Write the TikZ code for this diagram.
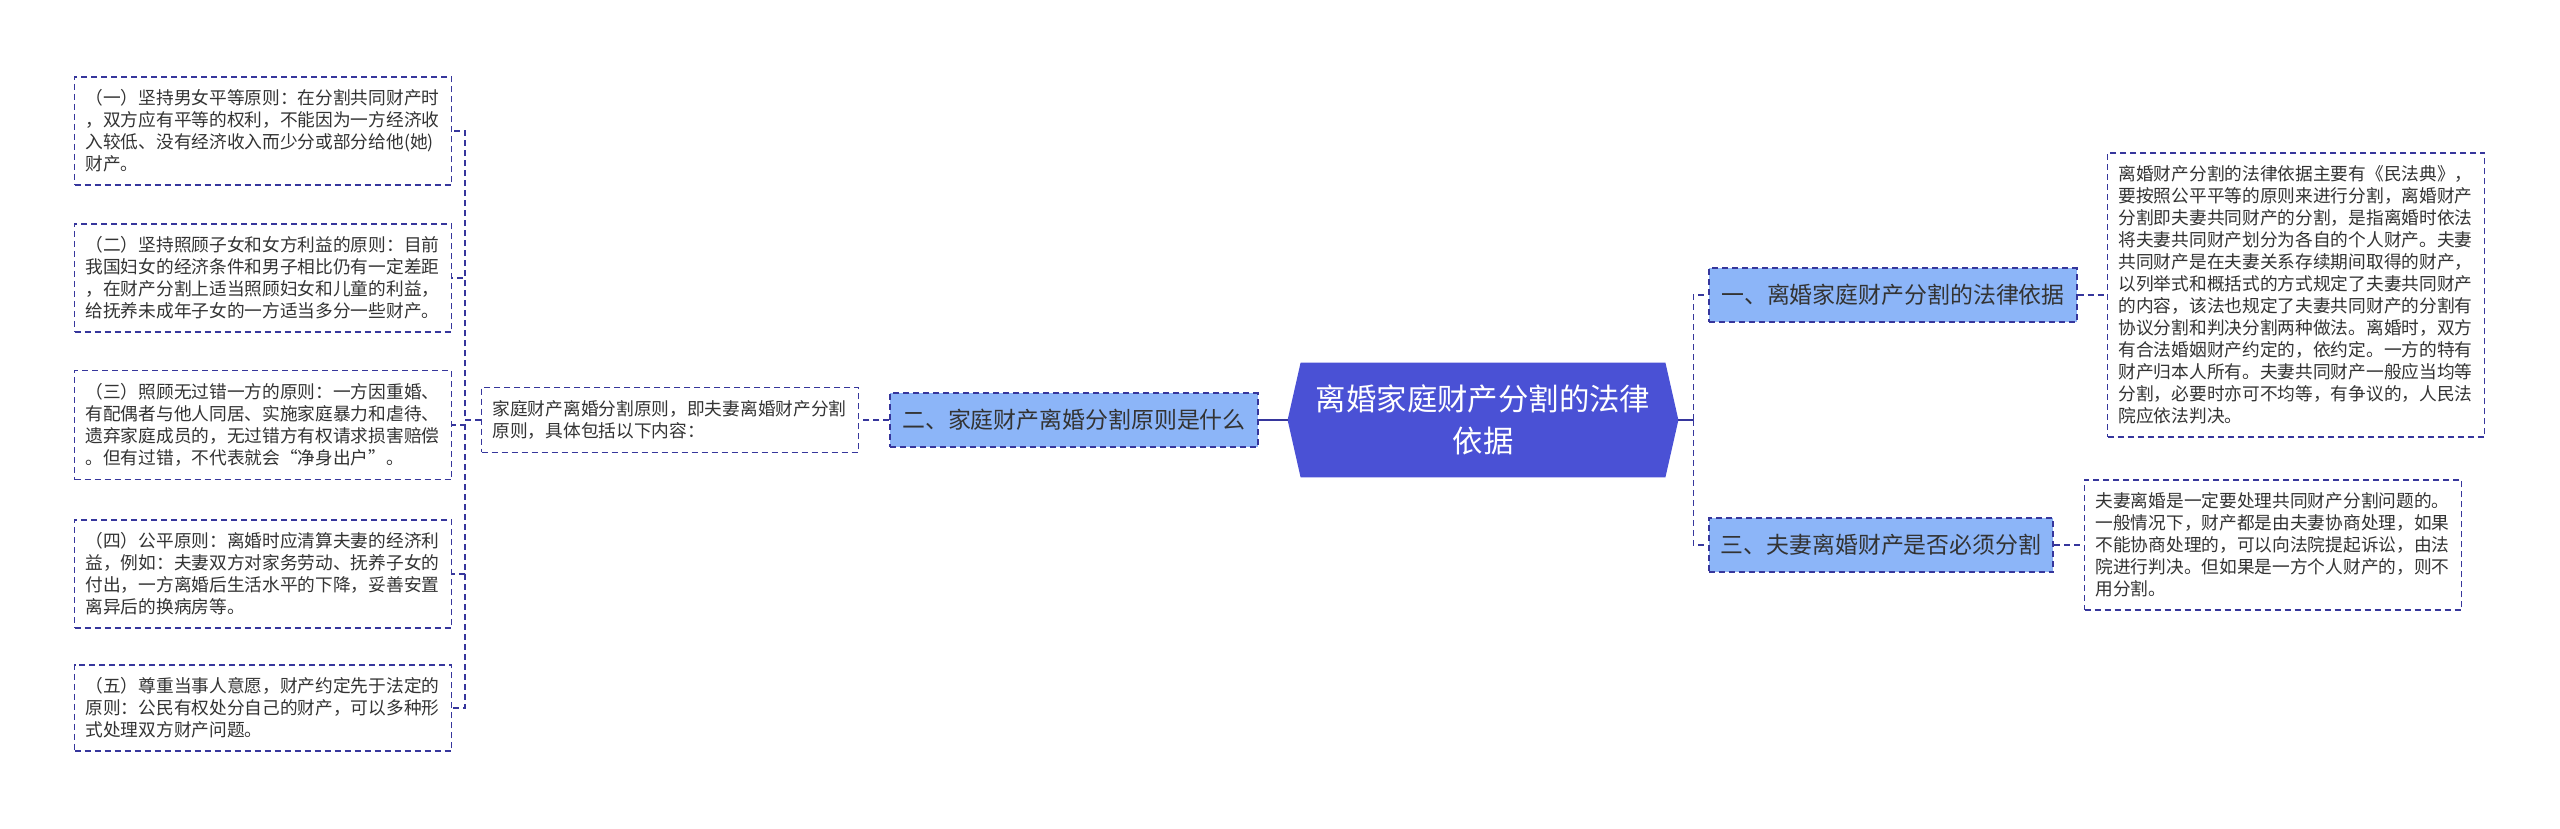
\documentclass[tikz,border=0pt]{standalone}
\usepackage{fontspec}
\setmainfont{Noto Sans CJK SC}
\usetikzlibrary{calc,positioning,backgrounds}
\definecolor{rootfill}{HTML}{4A51D5}
\definecolor{branchfill}{HTML}{8CB5F8}
\definecolor{edgeblue}{HTML}{36369C}
\definecolor{inkgray}{HTML}{333333}

\begin{document}
\begin{tikzpicture}[x=0.5pt, y=-0.5pt,
  textbox/.style={draw=edgeblue, line width=0.9pt, dash pattern=on 3pt off 2pt, text=inkgray, align=left, text width=177.5pt, inner xsep=5.5pt, inner ysep=6.5pt, font=\fontsize{8.85pt}{11pt}\selectfont},
  branchbox/.style={draw=edgeblue, line width=0.9pt, dash pattern=on 3pt off 2pt, fill=branchfill, text=inkgray, inner xsep=6pt, minimum height=27pt, font=\fontsize{11.45pt}{13pt}\selectfont},
  rootbox/.style={text=white, align=center, minimum width=182pt, minimum height=57pt, inner sep=0pt, font=\fontsize{15.2pt}{21pt}\selectfont},
  conn/.style={draw=edgeblue, line width=0.9pt, dash pattern=on 3pt off 2pt},
  rootconn/.style={draw=edgeblue, line width=1.2pt}]
\useasboundingbox (0,0) rectangle (2560,829);
\begin{scope}[on background layer]
\fill[white] (0,0) rectangle (2560,829);
\end{scope}

% centre
\node[rootbox] (root) at (1483,420) {离婚家庭财产分割的法律\\依据};
\coordinate (rootL) at ($(root.west)+(-13,0)$);
\coordinate (rootR) at ($(root.east)+(13,0)$);
\begin{scope}[on background layer]
\fill[rootfill] (rootL) -- (root.north west) -- (root.north east) -- (rootR) -- (root.south east) -- (root.south west) -- cycle;
\end{scope}

% left side
\node[branchbox] (b2) at (1074,420) {二、家庭财产离婚分割原则是什么};
\node[textbox] (mid) at (670,420) {家庭财产离婚分割原则，即夫妻离婚财产分割\\原则，具体包括以下内容：};
\node[textbox] (l1) at (263,131) {（一）坚持男女平等原则：在分割共同财产时\\，双方应有平等的权利，不能因为一方经济收\\入较低、没有经济收入而少分或部分给他(她)\\财产。};
\node[textbox] (l2) at (263,278) {（二）坚持照顾子女和女方利益的原则：目前\\我国妇女的经济条件和男子相比仍有一定差距\\，在财产分割上适当照顾妇女和儿童的利益，\\给抚养未成年子女的一方适当多分一些财产。};
\node[textbox] (l3) at (263,425) {（三）照顾无过错一方的原则：一方因重婚、\\有配偶者与他人同居、实施家庭暴力和虐待、\\遗弃家庭成员的，无过错方有权请求损害赔偿\\。但有过错，不代表就会“净身出户”。};
\node[textbox] (l4) at (263,574) {（四）公平原则：离婚时应清算夫妻的经济利\\益，例如：夫妻双方对家务劳动、抚养子女的\\付出，一方离婚后生活水平的下降，妥善安置\\离异后的换病房等。};
\node[textbox] (l5) at (263,708) {（五）尊重当事人意愿，财产约定先于法定的\\原则：公民有权处分自己的财产，可以多种形\\式处理双方财产问题。};

% right side
\node[branchbox] (b1) at (1893,295) {一、离婚家庭财产分割的法律依据};
\node[branchbox] (b3) at (1881,545) {三、夫妻离婚财产是否必须分割};
\node[textbox] (r1) at (2296,295) {离婚财产分割的法律依据主要有《民法典》，\\要按照公平平等的原则来进行分割，离婚财产\\分割即夫妻共同财产的分割，是指离婚时依法\\将夫妻共同财产划分为各自的个人财产。夫妻\\共同财产是在夫妻关系存续期间取得的财产，\\以列举式和概括式的方式规定了夫妻共同财产\\的内容，该法也规定了夫妻共同财产的分割有\\协议分割和判决分割两种做法。离婚时，双方\\有合法婚姻财产约定的，依约定。一方的特有\\财产归本人所有。夫妻共同财产一般应当均等\\分割，必要时亦可不均等，有争议的，人民法\\院应依法判决。};
\node[textbox] (r2) at (2273,545) {夫妻离婚是一定要处理共同财产分割问题的。\\一般情况下，财产都是由夫妻协商处理，如果\\不能协商处理的，可以向法院提起诉讼，由法\\院进行判决。但如果是一方个人财产的，则不\\用分割。};

% connectors
\draw[rootconn] (rootL) -- (b2.east);
\draw[conn] (b2.west) -- (mid.east);
\foreach \i in {1,...,5}{\draw[conn] (mid.west) -- ++(-16,0) |- (l\i.east);}
\coordinate (rj) at ($(rootR)+(15,0)$);
\draw[rootconn] (rootR) -- (rj);
\draw[conn] (rj) |- (b1.west);
\draw[conn] (rj) |- (b3.west);
\draw[conn] (b1.east) -- (r1.west);
\draw[conn] (b3.east) -- (r2.west);

\end{tikzpicture}
\end{document}
